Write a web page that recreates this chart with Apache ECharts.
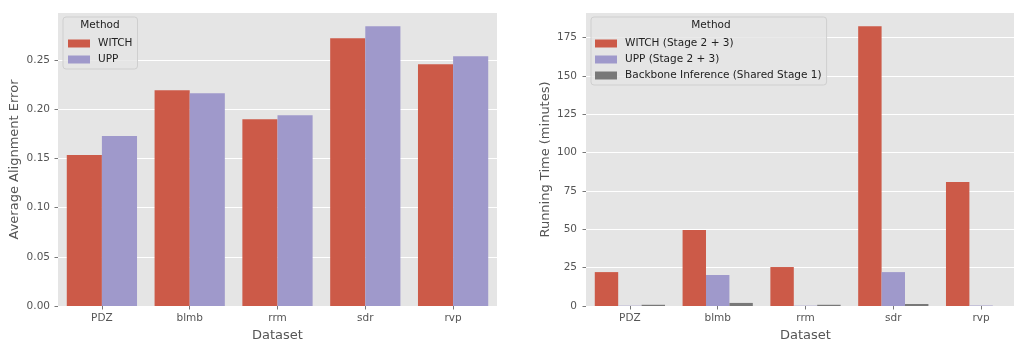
<!DOCTYPE html>
<html>
<head>
<meta charset="utf-8">
<script src="https://cdn.jsdelivr.net/npm/echarts@6/dist/echarts.min.js"></script>
<style>html,body{margin:0;padding:0;background:#fff;}#c{width:1014px;height:340px;}</style>
</head>
<body>
<div id="c"></div>
<script>
const categories = ['PDZ', 'blmb', 'rrm', 'sdr', 'rvp'];
const errWitch = [0.1535, 0.2195, 0.190, 0.2724, 0.246];
const errUpp = [0.1728, 0.2165, 0.194, 0.2846, 0.254];
const timeWitch = [22.1, 49.5, 25.4, 182.4, 80.8];
const timeUpp = [0.2, 20.2, 0.2, 22.1, 0.3];
const timeBackbone = [0.8, 2.0, 0.8, 1.3, 0];
const leftTicks = [0, 0.05, 0.10, 0.15, 0.20, 0.25];
const rightTicks = [0, 25, 50, 75, 100, 125, 150, 175];

const RED = '#CC5A48', PURPLE = '#9F99CB', GRAY = '#787878';
const FONT = 'DejaVu Sans';
const TXT = '#555555';

function yAxis(gridIndex, name, max, interval, ticks, gap, margin, fmt) {
  return {
    type: 'value', gridIndex, min: 0, max, interval,
    name, nameLocation: 'middle', nameGap: gap,
    nameTextStyle: { fontFamily: FONT, fontSize: 13, color: TXT },
    axisLine: { show: true, lineStyle: { color: 'rgba(0,0,0,0)' } },
    axisTick: { show: true, length: 3.5, lineStyle: { color: TXT, width: 0.8 }, customValues: ticks },
    axisLabel: { fontFamily: FONT, fontSize: 10.5, color: TXT, margin, customValues: ticks, formatter: fmt },
    splitLine: { show: true, lineStyle: { color: '#ffffff', width: 1 } }
  };
}
function xAxis(gridIndex) {
  return {
    type: 'category', gridIndex, data: categories,
    name: 'Dataset', nameLocation: 'middle', nameGap: 21,
    nameTextStyle: { fontFamily: FONT, fontSize: 13, color: TXT },
    axisLine: { show: true, lineStyle: { color: 'rgba(0,0,0,0)' } },
    axisTick: { show: true, alignWithLabel: true, length: 3.5, lineStyle: { color: TXT, width: 0.8 } },
    axisLabel: { fontFamily: FONT, fontSize: 10.5, color: TXT, margin: 7 },
    splitLine: { show: false }
  };
}
function bar(name, data, color, idx, catGap) {
  return {
    type: 'bar', name, data, xAxisIndex: idx, yAxisIndex: idx,
    itemStyle: { color }, barGap: '0%', barCategoryGap: catGap,
    animation: false, emphasis: { disabled: true }
  };
}
const legendCommon = {
  orient: 'vertical', itemWidth: 22, itemHeight: 8, itemGap: 3,
  icon: 'rect', selectedMode: false,
  backgroundColor: 'rgba(229,229,229,0.8)', borderColor: '#cfcfcf', borderWidth: 1, borderRadius: 3,
  textStyle: { fontFamily: FONT, fontSize: 10.5, color: '#222', padding: [0, 0, 0, 3], lineHeight: 13 }
};
const titleStyle = { fontFamily: FONT, fontSize: 10.5, fontWeight: 'normal', color: '#222' };

const chart = echarts.init(document.getElementById('c'), null, { renderer: 'canvas' });
chart.setOption({
  animation: false,
  backgroundColor: '#ffffff',
  grid: [
    { left: 58, right: 517, top: 13, bottom: 34, show: true, backgroundColor: '#E5E5E5', borderWidth: 0, outerBoundsMode: 'none', containLabel: false },
    { left: 586, right: -11, top: 13, bottom: 34, show: true, backgroundColor: '#E5E5E5', borderWidth: 0, outerBoundsMode: 'none', containLabel: false }
  ],
  title: [
    { text: 'Method', left: 100, top: 20, padding: 0, textAlign: 'center', textStyle: titleStyle },
    { text: 'Method', left: 711, top: 20, padding: 0, textAlign: 'center', textStyle: titleStyle }
  ],
  legend: [
    Object.assign({}, legendCommon, { data: ['WITCH', 'UPP'], left: 63, top: 17, padding: [20, 5, 3, 5] }),
    Object.assign({}, legendCommon, { data: ['WITCH (Stage 2 + 3)', 'UPP (Stage 2 + 3)', 'Backbone Inference (Shared Stage 1)'], left: 591, top: 17, padding: [20, 5, 3, 4] })
  ],
  xAxis: [xAxis(0), xAxis(1)],
  yAxis: [
    yAxis(0, 'Average Alignment Error', 0.298, 0.05, leftTicks, 37, 8, v => v.toFixed(2)),
    yAxis(1, 'Running Time (minutes)', 191, 25, rightTicks, 34, 9, v => String(Math.round(v)))
  ],
  series: [
    bar('WITCH', errWitch, RED, 0, '20%'),
    bar('UPP', errUpp, PURPLE, 0, '20%'),
    bar('WITCH (Stage 2 + 3)', timeWitch, RED, 1, '20%'),
    bar('UPP (Stage 2 + 3)', timeUpp, PURPLE, 1, '20%'),
    bar('Backbone Inference (Shared Stage 1)', timeBackbone, GRAY, 1, '20%')
  ]
});
</script>
</body>
</html>
